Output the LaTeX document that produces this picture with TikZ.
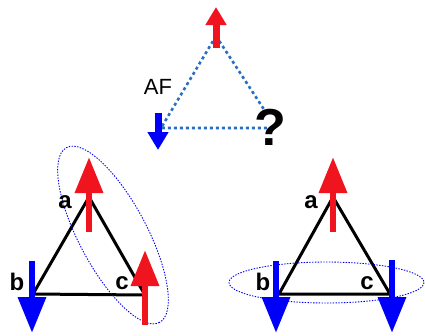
\documentclass[tikz,border=0pt]{standalone}
\usepackage{fontspec}
\setmainfont{Liberation Sans}
\usetikzlibrary{arrows.meta, calc}
\definecolor{spinred}{RGB}{240,20,30}
\definecolor{spinblue}{RGB}{0,0,250}
\definecolor{bondblue}{RGB}{40,110,195}

\begin{document}
\begin{tikzpicture}[x=1pt,y=-1pt,
  bond/.style={line width=3pt, line join=round},
  afbond/.style={bondblue, line width=2.6pt, dash pattern=on 3pt off 3pt},
  pair/.style={spinblue, line width=0.9pt, dash pattern=on 1.4pt off 1.4pt},
  bigspin/.style={line width=6.5pt, -{Triangle[length=36pt,width=27pt]}},
  smallspin/.style={line width=7pt, -{Triangle[length=18pt,width=20pt]}},
  site/.style={font=\fontsize{24}{24}\selectfont\bfseries, inner sep=0pt}]

\useasboundingbox (0,0) rectangle (425,335);

% ================== Top: frustrated AF triangle ==================
\coordinate (Tt) at (216,36);
\coordinate (Lt) at (161,128);
\coordinate (Rt) at (268,128);
\coordinate (Qt) at (265,111);

\draw[afbond] (Tt) -- (Lt) -- (Rt);
\draw[afbond] (Tt) -- (Qt);

\draw[smallspin, spinred]  (216,48)  -- (216,7);
\draw[smallspin, spinblue] (158,113) -- (158,150);

\node[font=\fontsize{22}{22}\selectfont, inner sep=0pt] (af) at (158,87) {AF};
\node[font=\fontsize{52}{52}\selectfont\bfseries, inner sep=0pt] (q) at (270,127) {?};

% ================== Bottom left: a and c parallel ==================
\begin{scope}
  \coordinate (a1) at (89,197);
  \coordinate (b1) at (33,294);
  \coordinate (c1) at (145,295);
  \draw[bond] (a1) -- (b1) -- (c1) -- cycle;

  \draw[pair, rotate around={-62:(113,235)}] (113,235) ellipse [x radius=99, y radius=34];

  \draw[bigspin, spinred]  (89,232)  -- (89,157);
  \draw[bigspin, spinred]  (145,325) -- (145,250);
  \draw[bigspin, spinblue] (32,261)  -- (32,333);

  \node[site] (la1) at (65,202) {a};
  \node[site] (lb1) at (17,282) {b};
  \node[site] (lc1) at (122,283) {c};
\end{scope}

% ================== Bottom right: b and c parallel ==================
\begin{scope}
  \coordinate (a2) at (333,197);
  \coordinate (b2) at (279,294);
  \coordinate (c2) at (390,294);
  \draw[bond] (a2) -- (b2) -- (c2) -- cycle;

  \draw[pair] (326.5,282.5) ellipse [x radius=97.5, y radius=20.5];

  \draw[bigspin, spinred]  (333,232) -- (333,157);
  \draw[bigspin, spinblue] (276,261) -- (276,333);
  \draw[bigspin, spinblue] (392,260) -- (392,333);

  \node[site] (la2) at (311,202) {a};
  \node[site] (lb2) at (263,282) {b};
  \node[site] (lc2) at (367,283) {c};
\end{scope}

\end{tikzpicture}
\end{document}
